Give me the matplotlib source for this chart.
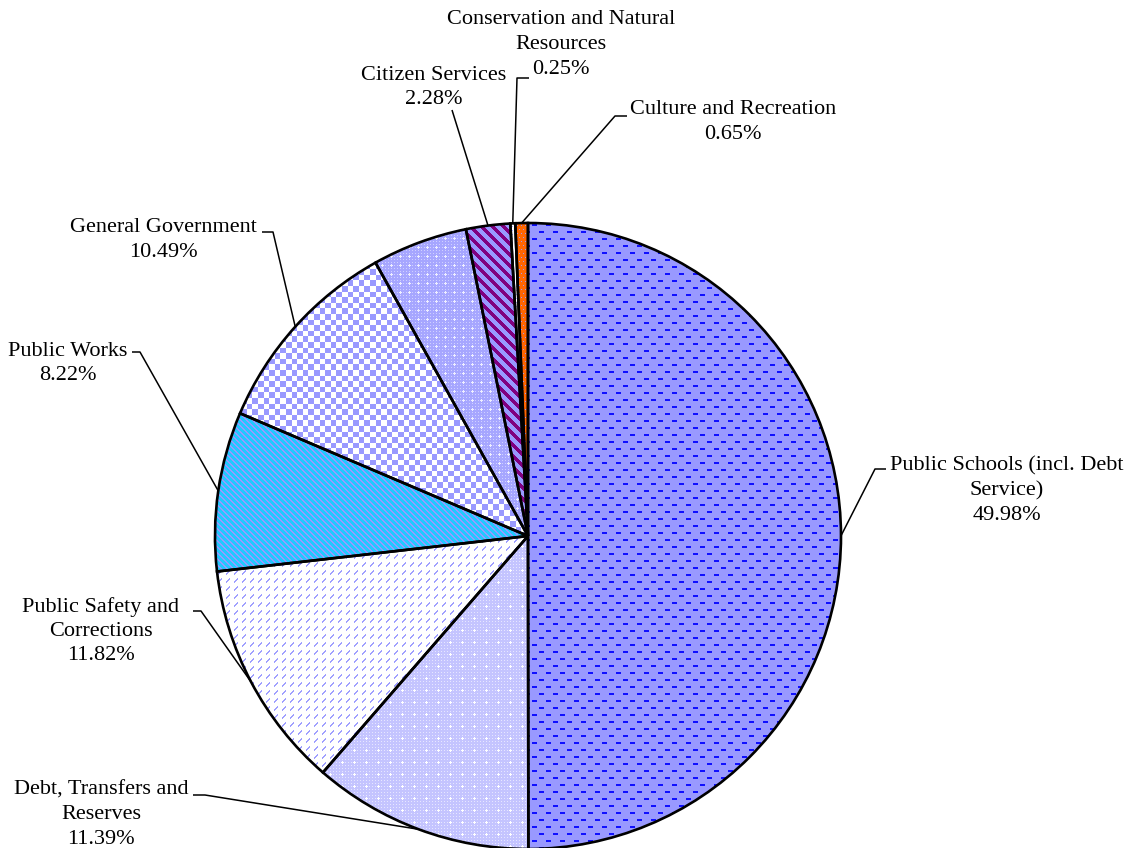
import numpy as np
import matplotlib
matplotlib.use("Agg")
import matplotlib.pyplot as plt

# ---------------- data ----------------
categories = [
    "Public Schools (incl. Debt\nService)",
    "Debt, Transfers and\nReserves",
    "Public Safety and\nCorrections",
    "Public Works",
    "General Government",
    "",
    "Citizen Services",
    "Conservation and Natural\nResources",
    "Culture and Recreation",
]
values = [49.98, 11.39, 11.82, 8.22, 10.49, 4.92, 2.28, 0.25, 0.65]
pct_labels = ["49.98%", "11.39%", "11.82%", "8.22%", "10.49%", "", "2.28%", "0.25%", "0.65%"]

# ---------------- layout (pixels) ----------------
W, H = 1139, 848
CX, CY, R = 528, 536, 313

def Y(py):
    return H - py

# label block centre (x, first line y) and leader elbow/end points
label_pos = [
    (1007, 466), (101, 790), (101, 607), (68, 351), (163, 228),
    None, (434, 75), (561, 20), (733, 110),
]
leader_pts = [
    [(875, 469), (886, 469)],
    [(205, 795), (193, 795)],
    [(201, 611), (193, 611)],
    [(140, 352), (132, 352)],
    [(273, 232), (262, 232)],
    None,
    [(452, 110)],
    [(517, 78), (529, 78)],
    [(615, 116), (627, 116)],
]
LINE_STEP = 24.5

# ---------------- textures ----------------
yy, xx = np.mgrid[0:H, 0:W]

def hexrgb(h):
    h = h.lstrip("#")
    return np.array([int(h[i:i + 2], 16) / 255 for i in (0, 2, 4)])

def texture(bg, layers):
    img = np.empty((H, W, 3))
    img[:] = hexrgb(bg)
    for mask, col in layers:
        img[mask] = hexrgb(col)
    return img

def t_schools():
    r = yy // 7
    off = (r % 2) * 7
    m = ((yy % 7) < 2) & (((xx + off) % 14) < 5)
    return texture("#9999FF", [(m, "#1010FF")])

def t_debt():
    m1 = ((xx % 3) == 0) & ((yy % 3) == 0)
    u, v = xx % 12, yy % 12
    m2 = ((u == 6) & (abs(v - 6) <= 1)) | ((v == 6) & (abs(u - 6) <= 1))
    return texture("#C4C4FF", [(m1, "#E6E6FF"), (m2, "#FFFFFF")])

def t_safety():
    u, v = xx % 8, yy % 8
    m = ((u + v == 7) | (u + v == 8)) & (u >= 2) & (u <= 5)
    return texture("#FFFFFF", [(m, "#A0A0FF")])

def t_works():
    m = ((xx - yy) % 6) < 2
    return texture("#22C8FF", [(m, "#9999FF")])

def t_gov():
    m = ((np.floor(xx / 5.6) + np.floor(yy / 5.6)) % 2) == 0
    return texture("#FFFFFF", [(m, "#9999FF")])

def t_other():
    m1 = ((xx % 3) == 1) & ((yy % 3) == 1)
    u, v = xx % 9, yy % 9
    m2 = ((u == 4) & (abs(v - 4) <= 1)) | ((v == 4) & (abs(u - 4) <= 1))
    return texture("#A6A6FF", [(m1, "#D0D0FF"), (m2, "#EEEEFF")])

def t_citizen():
    m = ((xx - yy) % 11) < 5
    return texture("#9999FF", [(m, "#800080")])

def t_conserv():
    m = ((xx % 4) == 0) & ((yy % 4) == 2)
    return texture("#FFFFFF", [(m, "#B0B0FF")])

def t_culture():
    r = yy // 4
    m = ((yy % 4) == 1) & (((xx + (r % 2) * 2) % 4) == 1)
    return texture("#FF6600", [(m, "#9999FF")])

textures = [t_schools, t_debt, t_safety, t_works, t_gov, t_other,
            t_citizen, t_conserv, t_culture]
base_colors = ["#9999FF", "#C4C4FF", "#F0F0FF", "#40BBFF", "#CCCCFF",
               "#A6A6FF", "#8A5ABF", "#FFFFFF", "#FF6600"]

# ---------------- figure ----------------
plt.rcParams["font.family"] = ["Liberation Serif", "DejaVu Serif"]
fig = plt.figure(figsize=(W / 100, H / 100), dpi=100)
ax = fig.add_axes([0, 0, 1, 1])

wedges, _ = ax.pie(values, startangle=90, counterclock=False,
                   center=(CX, Y(CY)), radius=R, colors=base_colors,
                   wedgeprops=dict(linewidth=0, zorder=1))
for w, tf in zip(wedges, textures):
    im = ax.imshow(tf(), extent=(0, W, 0, H), origin="upper",
                   interpolation="nearest", zorder=2)
    im.set_clip_path(w)

ax.pie(values, startangle=90, counterclock=False,
       center=(CX, Y(CY)), radius=R,
       wedgeprops=dict(fill=False, linewidth=1.9, edgecolor="black", zorder=3))

ax.set_xlim(0, W)
ax.set_ylim(0, H)
ax.set_aspect("equal")
ax.axis("off")

# ---------------- labels & leaders ----------------
total = sum(values)
cum = np.cumsum(values)
for i, (cat, pct) in enumerate(zip(categories, pct_labels)):
    if label_pos[i] is None:
        continue
    mid = cum[i] - values[i] / 2
    ang = np.deg2rad(90 - 360 * mid / total)
    sx = CX + R * np.cos(ang)
    sy = CY - R * np.sin(ang)
    pts = [(sx, sy)] + leader_pts[i]
    ax.plot([p[0] for p in pts], [Y(p[1]) for p in pts], color="black",
            lw=1.1, zorder=4, solid_capstyle="butt")
    lx, ly = label_pos[i]
    lines = cat.split("\n") + [pct]
    for k, line in enumerate(lines):
        ax.text(lx, Y(ly + k * LINE_STEP), line, ha="center", va="center",
                fontsize=16, color="black", zorder=5)

fig.savefig("out.png", dpi=100)
